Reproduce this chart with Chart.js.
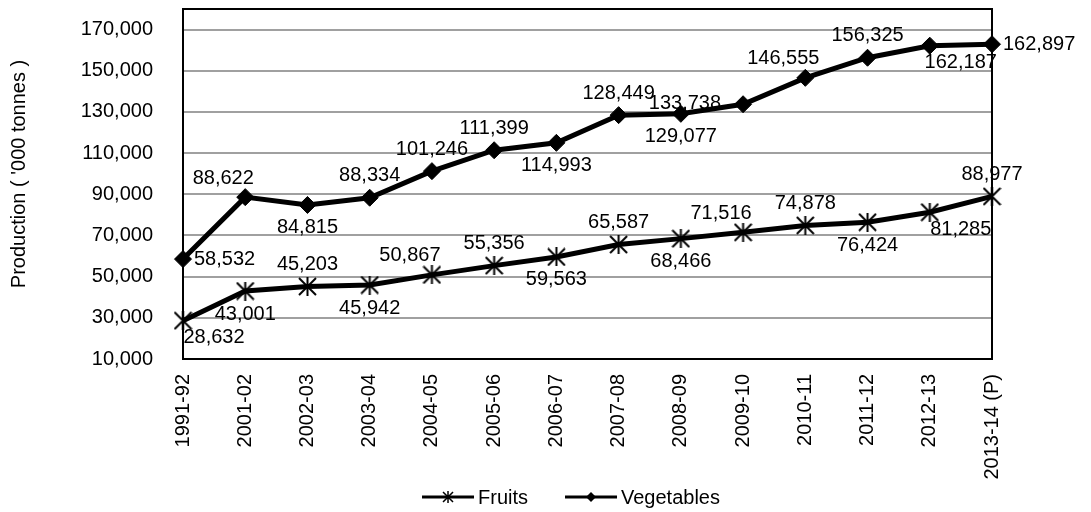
<!DOCTYPE html>
<html>
<head>
<meta charset="utf-8">
<script src="https://cdn.jsdelivr.net/npm/chart.js@4.4.1/dist/chart.umd.min.js"></script>
<style>
  html, body { margin: 0; padding: 0; background: #ffffff; }
  #wrap { width: 1091px; height: 512px; }
</style>
</head>
<body>
<div id="wrap"><canvas id="chart" width="1091" height="512"></canvas></div>
<script>
// Fruits and vegetables production, '000 tonnes
const years = ['1991-92', '2001-02', '2002-03', '2003-04', '2004-05', '2005-06', '2006-07',
  '2007-08', '2008-09', '2009-10', '2010-11', '2011-12', '2012-13', '2013-14 (P)'];
const fruits = [28632, 43001, 45203, 45942, 50867, 55356, 59563, 65587, 68466, 71516, 74878, 76424, 81285, 88977];
const vegetables = [58532, 88622, 84815, 88334, 101246, 111399, 114993, 128449, 129077, 133738, 146555, 156325, 162187, 162897];
const yTicks = [10000, 30000, 50000, 70000, 90000, 110000, 130000, 150000, 170000];
const yMin = 10000;
const yMax = 180000;
const yTitle = "Production ( '000 tonnes )";

// where each value label sits relative to its point
const fruitLabelPos = ['belowRight', 'below', 'above', 'below', 'aboveLeft', 'above', 'below',
  'above', 'below', 'aboveLeft', 'above', 'below', 'belowRight', 'above'];
const vegLabelPos = ['right', 'aboveLeft', 'below', 'above', 'above', 'above', 'below',
  'above', 'below', 'left', 'aboveLeft', 'above', 'belowRight', 'right'];

const FONT = 'Liberation Sans, Arial, sans-serif';
Chart.defaults.font.family = FONT;
Chart.defaults.font.size = 20;
Chart.defaults.color = '#000000';

const placements = {
  above:      { dx: 0,   dy: -22, align: 'center' },
  aboveLeft:  { dx: -22, dy: -19, align: 'center' },
  below:      { dx: 0,   dy: 23,  align: 'center' },
  belowRight: { dx: 31,  dy: 17,  align: 'center' },
  right:      { dx: 11,  dy: 0,   align: 'left' },
  left:       { dx: -22, dy: -1,  align: 'right' }
};

// Excel style star marker: an X with a vertical stroke
function starImage(size, lw) {
  const c = document.createElement('canvas');
  c.width = size;
  c.height = size;
  const g = c.getContext('2d');
  const m = 1, h = size / 2;
  g.strokeStyle = '#000';
  g.lineWidth = lw;
  g.beginPath();
  g.moveTo(m, m); g.lineTo(size - m, size - m);
  g.moveTo(size - m, m); g.lineTo(m, size - m);
  g.moveTo(h, 0); g.lineTo(h, size);
  g.stroke();
  return c;
}

const plotBox = {
  id: 'plotBox',
  beforeDatasetsDraw(chart) {
    const { ctx, chartArea: a } = chart;
    ctx.save();
    ctx.strokeStyle = '#000';
    ctx.lineWidth = 2;
    ctx.strokeRect(a.left, a.top, a.right - a.left, a.bottom - a.top);
    ctx.restore();
  }
};

const valueLabels = {
  id: 'valueLabels',
  afterDatasetsDraw(chart) {
    const ctx = chart.ctx;
    ctx.save();
    ctx.font = '20px ' + FONT;
    ctx.fillStyle = '#000';
    ctx.textBaseline = 'middle';
    chart.data.datasets.forEach((ds, i) => {
      const meta = chart.getDatasetMeta(i);
      meta.data.forEach((pt, j) => {
        const p = placements[ds.labelPos[j]];
        ctx.textAlign = p.align;
        ctx.fillText(ds.data[j].toLocaleString('en-US'), pt.x + p.dx, pt.y + p.dy);
      });
    });
    ctx.restore();
  }
};

const axisTitle = {
  id: 'axisTitle',
  afterDraw(chart) {
    const ctx = chart.ctx;
    ctx.save();
    ctx.font = '20px ' + FONT;
    ctx.fillStyle = '#000';
    ctx.textAlign = 'center';
    ctx.textBaseline = 'middle';
    ctx.translate(19, 174);
    ctx.rotate(-Math.PI / 2);
    ctx.fillText(yTitle, 0, 0);
    ctx.restore();
  }
};

// legend: short line with the series marker, then the name
const lineLegend = {
  id: 'lineLegend',
  afterDraw(chart) {
    const ctx = chart.ctx;
    const lineLen = 52, textGap = 4, itemGap = 37;
    const cy = 497, centerX = 571;
    ctx.save();
    ctx.font = '20px ' + FONT;
    const items = chart.data.datasets.map(ds => ({ ds, w: ctx.measureText(ds.label).width }));
    const total = items.reduce((s, it) => s + lineLen + textGap + it.w, 0) + itemGap * (items.length - 1);
    let x = centerX - total / 2;
    items.forEach(it => {
      ctx.strokeStyle = '#000';
      ctx.lineWidth = 3;
      ctx.beginPath();
      ctx.moveTo(x, cy);
      ctx.lineTo(x + lineLen, cy);
      ctx.stroke();
      const mx = x + lineLen / 2;
      if (it.ds.legendMarker === 'star') {
        ctx.lineWidth = 1.5;
        ctx.beginPath();
        ctx.moveTo(mx - 5, cy - 5); ctx.lineTo(mx + 5, cy + 5);
        ctx.moveTo(mx + 5, cy - 5); ctx.lineTo(mx - 5, cy + 5);
        ctx.moveTo(mx, cy - 6); ctx.lineTo(mx, cy + 6);
        ctx.stroke();
      } else {
        ctx.fillStyle = '#000';
        ctx.beginPath();
        ctx.moveTo(mx, cy - 5); ctx.lineTo(mx + 5, cy);
        ctx.lineTo(mx, cy + 5); ctx.lineTo(mx - 5, cy);
        ctx.closePath();
        ctx.fill();
      }
      ctx.fillStyle = '#000';
      ctx.textAlign = 'left';
      ctx.textBaseline = 'alphabetic';
      ctx.fillText(it.ds.label, x + lineLen + textGap, cy + 7);
      x += lineLen + textGap + it.w + itemGap;
    });
    ctx.restore();
  }
};

const starMarker = starImage(19, 2);

new Chart(document.getElementById('chart'), {
  type: 'line',
  data: {
    labels: years,
    datasets: [
      {
        label: 'Fruits',
        data: fruits,
        labelPos: fruitLabelPos,
        legendMarker: 'star',
        borderColor: '#000',
        backgroundColor: '#000',
        borderWidth: 5,
        tension: 0,
        pointStyle: starMarker,
        pointRadius: 9,
        clip: false
      },
      {
        label: 'Vegetables',
        data: vegetables,
        labelPos: vegLabelPos,
        legendMarker: 'diamond',
        borderColor: '#000',
        backgroundColor: '#000',
        borderWidth: 5,
        tension: 0,
        pointStyle: 'rectRot',
        pointRadius: 8.5,
        pointBorderWidth: 1,
        pointBackgroundColor: '#000',
        pointBorderColor: '#000',
        clip: false
      }
    ]
  },
  options: {
    responsive: false,
    animation: false,
    layout: { autoPadding: false, padding: { left: 0, right: 99, top: 9, bottom: 33 } },
    plugins: {
      legend: { display: false },
      tooltip: { enabled: false }
    },
    scales: {
      x: {
        offset: false,
        grid: { display: false, drawTicks: false },
        border: { display: false },
        ticks: { minRotation: 90, maxRotation: 90, padding: 15, color: '#000', autoSkip: false },
        afterFit(scale) {
          scale.height = 120;
          scale.paddingLeft = 0;
          scale.paddingRight = 0;
        }
      },
      y: {
        min: yMin,
        max: yMax,
        grid: { color: '#a0a0a0', lineWidth: 2, drawTicks: false },
        border: { display: false },
        ticks: {
          padding: 30,
          color: '#000',
          font: { size: 20, lineHeight: 0.4 },
          callback: v => v.toLocaleString('en-US')
        },
        afterBuildTicks(scale) {
          scale.ticks = yTicks.map(v => ({ value: v }));
        },
        afterFit(scale) {
          scale.width = 183;
          scale.paddingTop = 0;
          scale.paddingBottom = 0;
        }
      }
    }
  },
  plugins: [plotBox, valueLabels, axisTitle, lineLegend]
});
</script>
</body>
</html>
